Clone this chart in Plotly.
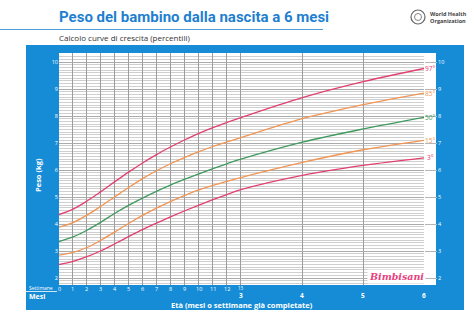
import plotly.graph_objects as go

# ---------------- data ----------------
weeks = list(range(0, 14))                 # settimane 0..13
months_extra = [4, 5, 6]                   # mesi 4..6
week_labels = [str(w) for w in range(0, 13)]
month_labels = ["3", "4", "5", "6"]
y_ticks = [2, 3, 4, 5, 6, 7, 8, 9, 10]

p97 = [4.35, 4.55, 4.85, 5.20, 5.57, 5.93, 6.27, 6.58, 6.86, 7.12, 7.36, 7.57, 7.76, 7.94, 8.68, 9.27, 9.76]
p85 = [3.88, 4.05, 4.33, 4.66, 5.01, 5.36, 5.69, 5.98, 6.24, 6.47, 6.68, 6.87, 7.04, 7.20, 7.90, 8.42, 8.85]
p50 = [3.35, 3.52, 3.77, 4.07, 4.40, 4.70, 4.97, 5.22, 5.45, 5.66, 5.86, 6.05, 6.23, 6.40, 7.03, 7.52, 7.95]
p15 = [2.85, 2.95, 3.13, 3.40, 3.71, 4.03, 4.33, 4.60, 4.84, 5.06, 5.26, 5.43, 5.58, 5.72, 6.28, 6.75, 7.10]
p3 = [2.50, 2.62, 2.79, 3.01, 3.27, 3.54, 3.80, 4.04, 4.27, 4.49, 4.70, 4.90, 5.09, 5.27, 5.80, 6.17, 6.45]

series_names = ["97°", "85°", "50°", "15°", "3°"]
series_vals = [p97, p85, p50, p15, p3]

# ---------------- styles ----------------
WEEKS_PER_MONTH = 30.4375 / 7
month_x = [m * WEEKS_PER_MONTH for m in months_extra]
x_all = weeks + month_x
x_max = 6 * WEEKS_PER_MONTH

BLUE = "rgb(22,140,214)"
PINK = "#e2406f"
ORANGE = "#f29452"
GREEN = "#3f9a5e"
series_colors = [PINK, ORANGE, GREEN, ORANGE, PINK]
FONT = "Open Sans"

W, H = 474, 315
L, R, T, B = 59, 50, 53, 30
PW = W - L - R
PH = H - T - B


def px(x):
    return (x - L) / PW


def py(y):
    return (H - B - y) / PH


fig = go.Figure()
for name, vals, col in zip(series_names, series_vals, series_colors):
    fig.add_trace(go.Scatter(x=x_all, y=vals, mode="lines", name=name,
                             line=dict(color=col, width=1.3, shape="spline", smoothing=1.0),
                             hoverinfo="skip", showlegend=False))
# invisible trace for the right axis
fig.add_trace(go.Scatter(x=[None], y=[None], yaxis="y2", showlegend=False, hoverinfo="skip"))

shapes = [
    dict(type="rect", xref="paper", yref="paper", x0=px(26), x1=px(464), y0=py(310), y1=py(45),
         fillcolor=BLUE, line=dict(width=0), layer="below"),
    dict(type="rect", xref="paper", yref="paper", x0=px(59), x1=px(436), y0=py(285), y1=py(53),
         fillcolor="white", line=dict(width=0), layer="below"),
    dict(type="line", xref="paper", yref="paper", x0=px(0), x1=px(323), y0=py(29.5), y1=py(29.5),
         line=dict(color="#4f9ad8", width=1.2)),
    dict(type="line", xref="paper", yref="paper", x0=px(26), x1=px(57), y0=py(291.5), y1=py(291.5),
         line=dict(color="white", width=0.8)),
    dict(type="circle", xref="paper", yref="paper", x0=px(411), x1=px(425), y0=py(24), y1=py(10),
         line=dict(color="#666", width=1.2), fillcolor="white"),
    dict(type="circle", xref="paper", yref="paper", x0=px(414.5), x1=px(421.5), y0=py(20.5), y1=py(13.5),
         line=dict(color="#666", width=0.8), fillcolor="white"),
]

ann = []
ann.append(dict(text="<b>Peso del bambino dalla nascita a 6 mesi</b>", xref="paper", yref="paper",
                x=px(57), y=py(17), xanchor="left", yanchor="middle", showarrow=False,
                font=dict(family="Roboto", size=15, color="#1f7fcf")))
ann.append(dict(text="Calcolo curve di crescita (percentili)", xref="paper", yref="paper",
                x=px(57), y=py(38), xanchor="left", yanchor="middle", showarrow=False,
                font=dict(family=FONT, size=8, color="#333")))
ann.append(dict(text="<b>World Health<br>Organization</b>", xref="paper", yref="paper",
                x=px(428), y=py(17), xanchor="left", yanchor="middle", showarrow=False, align="left",
                font=dict(family=FONT, size=5.5, color="#444")))
# x labels
for i, lab in enumerate(week_labels):
    ann.append(dict(text=lab, x=weeks[i], xref="x", y=py(289), yref="paper", showarrow=False,
                    xanchor="center", yanchor="middle", font=dict(family=FONT, size=5.5, color="white")))
ann.append(dict(text="13", x=weeks[13], xref="x", y=py(287.5), yref="paper", showarrow=False,
                xanchor="center", yanchor="middle", font=dict(family=FONT, size=4.5, color="white")))
month_pos = [weeks[13]] + month_x
for xm, lab in zip(month_pos, month_labels):
    ann.append(dict(text="<b>" + lab + "</b>", x=xm, xref="x", y=py(295.5), yref="paper", showarrow=False,
                    xanchor="center", yanchor="middle", font=dict(family=FONT, size=6.5, color="white")))
ann.append(dict(text="Settimane", xref="paper", yref="paper", x=px(27), y=py(288), xanchor="left",
                yanchor="middle", showarrow=False, font=dict(family=FONT, size=5, color="white")))
ann.append(dict(text="<b>Mesi</b>", xref="paper", yref="paper", x=px(27), y=py(296), xanchor="left",
                yanchor="middle", showarrow=False, font=dict(family=FONT, size=7, color="white")))
ann.append(dict(text="<b>Età (mesi o settimane già completate)</b>", xref="paper", yref="paper",
                x=px(242), y=py(305), xanchor="center", yanchor="middle", showarrow=False,
                font=dict(family=FONT, size=7.5, color="white")))
ann.append(dict(text="<b>Peso (kg)</b>", xref="paper", yref="paper", x=px(38), y=py(175),
                xanchor="center", yanchor="middle", textangle=-90, showarrow=False,
                font=dict(family=FONT, size=7.5, color="white")))
# percentile labels
for name, vals, col in zip(series_names, series_vals, series_colors):
    ann.append(dict(text=name, xref="paper", x=px(430), y=vals[-1], yref="y", xanchor="center",
                    yanchor="middle", showarrow=False, font=dict(family=FONT, size=6.5, color=col)))
# logo
ann.append(dict(text="<i><b>Bimbisani</b></i>", xref="paper", yref="paper", x=px(396), y=py(276),
                xanchor="center", yanchor="middle", showarrow=False, bgcolor="white", borderpad=1,
                font=dict(family="DejaVu Serif", size=9.5, color="#e8407d")))

y_range = [2 - 7 / 27, 10 + 9 / 27]

fig.update_layout(
    width=W, height=H, margin=dict(l=L, r=R, t=T, b=B),
    paper_bgcolor="white", plot_bgcolor="rgba(0,0,0,0)",
    font=dict(family=FONT),
    shapes=shapes, annotations=ann,
    xaxis=dict(range=[0, x_max], tickvals=weeks + month_x, showticklabels=False, ticks="",
               showgrid=True, gridcolor="#9c9c9c", gridwidth=1, zeroline=False, showline=False),
    yaxis=dict(range=y_range, tickvals=y_ticks, ticks="", showgrid=True, gridcolor="#ababab",
               gridwidth=1, zeroline=False, showline=False,
               tickfont=dict(family=FONT, size=5.5, color="white"),
               minor=dict(dtick=0.1, showgrid=True, gridcolor="#cfcfcf", gridwidth=1)),
    yaxis2=dict(range=y_range, tickvals=y_ticks, overlaying="y", side="right", ticks="outside",
                ticklen=12, tickcolor="#b5b5b5", tickwidth=1, showgrid=False, zeroline=False,
                showline=False, tickfont=dict(family=FONT, size=5.5, color="white")),
)

fig.write_html("out.html")
